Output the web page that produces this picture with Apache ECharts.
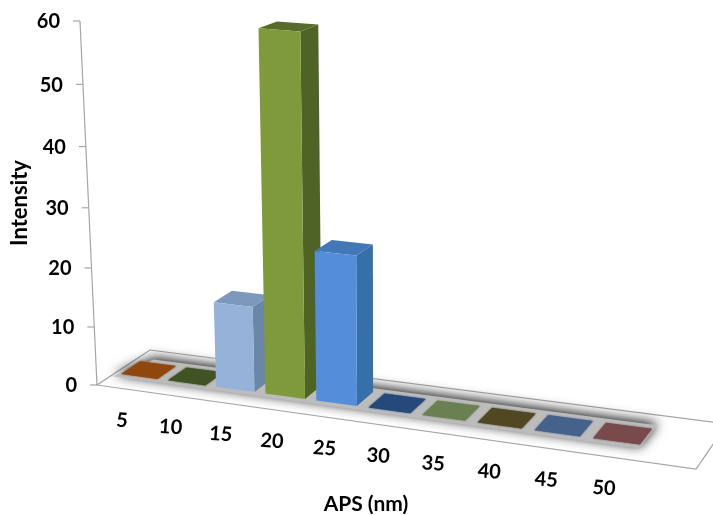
<!DOCTYPE html>
<html><head><meta charset="utf-8">
<style>html,body{margin:0;padding:0;background:#fff}#c{width:713px;height:515px}</style>
<script src="https://cdn.jsdelivr.net/npm/echarts@6/dist/echarts.min.js"></script>
</head><body><div id="c"></div>
<script>
const categories = ['5','10','15','20','25','30','35','40','45','50'];
const intensity = [0,0,14.5,59.7,25,0,0,0,0,0];
const yTicks = [0,10,20,30,40,50,60];
const axisTitles = ['APS (nm)','Intensity'];
const frontColors = ['#8f470e','#3f5324','#95b3d9','#7f9a3b','#558ed8','#25497a','#6b8050','#4f4822','#45628a','#794a4b'];
const sideColors  = ['#8f470e','#3f5324','#6b87a8','#4f6324','#376fa8','#25497a','#6b8050','#4f4822','#45628a','#794a4b'];
const topColors   = ['#8f470e','#3f5324','#7c98bc','#566c28','#4377b8','#25497a','#6b8050','#4f4822','#45628a','#794a4b'];

/* perspective of the floor: unit square -> picture */
const Q = [[97,385],[696,469],[727,424],[150,350]];
const H = (function(){
  const [a,b,c,d]=Q;
  const dx1=b[0]-c[0],dx2=d[0]-c[0],sx=a[0]-b[0]+c[0]-d[0];
  const dy1=b[1]-c[1],dy2=d[1]-c[1],sy=a[1]-b[1]+c[1]-d[1];
  const det=dx1*dy2-dx2*dy1;
  const g=(sx*dy2-dx2*sy)/det,h=(dx1*sy-sx*dy1)/det;
  return {A:b[0]-a[0]+g*b[0],B:d[0]-a[0]+h*d[0],C:a[0],D:b[1]-a[1]+g*b[1],E:d[1]-a[1]+h*d[1],F:a[1],g,h};
})();
const VX=382,VD=6100;
function proj(u,v,val){
  const w=H.g*u+H.h*v+1;
  const X=(H.A*u+H.B*v+H.C)/w,Y=(H.D*u+H.E*v+H.F)/w;
  const hp=val*(5.747+0.00533*val)*(1+0.09*u)*(1-0.05*v);
  return [X+(X-VX)*hp/VD,Y-hp];
}
const U_SPAN=0.91,U_OFF=0.002,V0=0.33,V1=0.69;
function uOf(px,cs){return U_OFF+(px-cs.x)/cs.width*U_SPAN;}
function valOf(py,cs){return (cs.y+cs.height-py)/cs.height*60;}
const TXT={fontFamily:'Lato',fontWeight:'bold',fontSize:20,fill:'#000',align:'center',verticalAlign:'middle'};

function renderFloor(params,api){
  const cs=params.coordSys;
  const p=(u,v)=>proj(u,v,0);
  const y0=api.coord([0,0]),y1=api.coord([0,60]);
  const a0=proj(0,0,valOf(y0[1],cs)),a1=proj(0,0,valOf(y1[1],cs));
  const kids=[{type:'polygon',shape:{points:[p(0,0),p(1,0),p(1,1),p(0,1)]},
      style:{fill:'#fff',stroke:'#a6a6a6',lineWidth:1.2}},
    {type:'polygon',shape:{points:[p(0.004,0.25),p(0.905,0.25),p(0.905,0.78),p(0.03,0.78)]},
      style:{fill:'#bcbcbc',shadowBlur:12,shadowColor:'rgba(0,0,0,0.9)',shadowOffsetX:1,shadowOffsetY:-2}},
    {type:'line',shape:{x1:a0[0],y1:a0[1],x2:a1[0],y2:a1[1]},style:{stroke:'#a6a6a6',lineWidth:1.2}},
    {type:'text',x:366,y:504,style:Object.assign({},TXT,{text:axisTitles[0],fontSize:21})},
    {type:'text',x:20,y:203,rotation:Math.PI/2,style:Object.assign({},TXT,{text:axisTitles[1],fontSize:22})}];
  return {type:'group',children:kids};
}
function renderBars(params,api){
  const cs=params.coordSys,i=api.value(0),val=api.value(1);
  const c=api.coord([i,val]),half=api.size([1,0])[0]*0.39/cs.width*U_SPAN;
  const u=uOf(c[0],cs),h=valOf(c[1],cs),L=u-half,R=u+half;
  if(h<=0.01) return {type:'polygon',shape:{points:[proj(L,V0,0),proj(R,V0,0),proj(R,V1,0),proj(L,V1,0)]},
      style:{fill:frontColors[i],shadowBlur:2,shadowColor:frontColors[i]}};
  const side={type:'polygon',shape:{points:[proj(R,V0,0),proj(R,V1,0),proj(R,V1,h),proj(R,V0,h)]},style:{fill:sideColors[i]}};
  const front={type:'polygon',shape:{points:[proj(L,V0,0),proj(R,V0,0),proj(R,V0,h),proj(L,V0,h)]},style:{fill:frontColors[i]}};
  const top={type:'polygon',shape:{points:[proj(L,V0,h),proj(R,V0,h),proj(R,V1,h),proj(L,V1,h)]},style:{fill:topColors[i]}};
  return {type:'group',children:[side,top,front]};
}
function renderXLabel(params,api){
  const cs=params.coordSys,i=api.value(0);
  const c=api.coord([i,0]),u=uOf(c[0],cs),p=proj(u,0,0);
  return {type:'text',x:p[0]+10*u-16*u*u*u*u,y:p[1]+32,rotation:-0.07,
    style:Object.assign({},TXT,{text:categories[i]})};
}
function renderYTick(params,api){
  const cs=params.coordSys,t=api.value(1);
  const c=api.coord([0,t]),p=proj(0,0,valOf(c[1],cs));
  return {type:'group',children:[
    {type:'line',shape:{x1:p[0]-7,y1:p[1],x2:p[0],y2:p[1]},style:{stroke:'#a6a6a6',lineWidth:1.2}},
    {type:'text',x:p[0]-20,y:p[1]+1,style:Object.assign({},TXT,{text:String(t),align:'right'})}]};
}
const chart=echarts.init(document.getElementById('c'),null,{renderer:'canvas'});
chart.setOption({
  animation:false,backgroundColor:'#fff',
  grid:{left:66,top:21,width:600,height:364},
  xAxis:{type:'category',data:categories,
    axisLine:{show:false},axisTick:{show:false},axisLabel:{show:false},splitLine:{show:false}},
  yAxis:{type:'value',min:0,max:60,interval:10,
    axisLine:{show:false},axisTick:{show:false},axisLabel:{show:false},splitLine:{show:false}},
  series:[
    {type:'custom',silent:true,z:1,renderItem:renderFloor,data:[[0,0]]},
    {type:'custom',silent:true,z:2,renderItem:renderBars,encode:{x:0,y:1},data:intensity.map((v,i)=>[i,v])},
    {type:'custom',silent:true,z:3,renderItem:renderXLabel,encode:{x:0,y:1},data:categories.map((c,i)=>[i,0])},
    {type:'custom',silent:true,z:3,renderItem:renderYTick,encode:{x:0,y:1},data:yTicks.map(t=>[0,t])}
  ]
});
</script></body></html>
